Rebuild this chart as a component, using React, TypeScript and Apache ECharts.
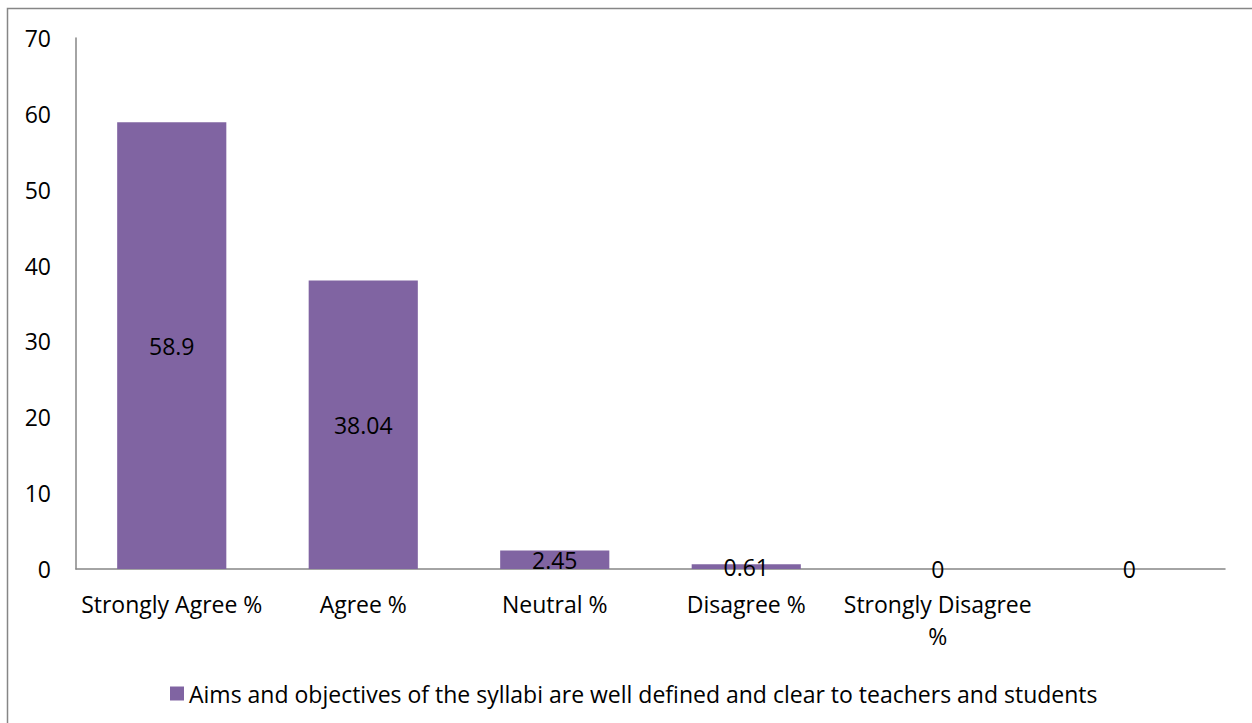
import React, { useEffect, useRef } from "react";
import * as echarts from "echarts";

const categories = [
  "Strongly Agree %",
  "Agree %",
  "Neutral %",
  "Disagree %",
  "Strongly Disagree\n%",
  "",
];
const values = [58.9, 38.04, 2.45, 0.61, 0, 0];
const seriesName =
  "Aims and objectives of the syllabi are well defined and clear to teachers and students";
const yMin = 0;
const yMax = 70;
const yInterval = 10;

const FONT = "'Open Sans', sans-serif";
const FS = 23;

export default function App() {
  const ref = useRef<HTMLDivElement>(null);
  useEffect(() => {
    if (!ref.current) return;
    const chart = echarts.init(ref.current, undefined, { renderer: "svg" });
    chart.setOption({
      animation: false,
      backgroundColor: "#ffffff",
      textStyle: { fontFamily: FONT },
      graphic: [
        {
          type: "rect",
          shape: { x: 7.5, y: 8.5, width: 1400, height: 900 },
          style: { fill: "none", stroke: "#868686", lineWidth: 1.5 },
          silent: true,
        },
      ],
      grid: { left: 76, right: 27, top: 38, bottom: 154, containLabel: false },
      legend: {
        show: true,
        top: 677,
        left: 165,
        itemWidth: 14,
        itemHeight: 14,
        itemGap: 6,
        icon: "rect",
        textStyle: { fontFamily: FONT, fontSize: FS, color: "#000" },
        data: [seriesName],
      },
      xAxis: {
        type: "category",
        data: categories,
        axisLine: { show: true, lineStyle: { color: "#868686", width: 1.5 } },
        axisTick: { show: false },
        axisLabel: {
          interval: 0,
          margin: 19,
          color: "#000",
          fontFamily: FONT,
          fontSize: FS,
          lineHeight: 32,
        },
        splitLine: { show: false },
      },
      yAxis: {
        type: "value",
        min: yMin,
        max: yMax,
        interval: yInterval,
        axisLine: { show: true, lineStyle: { color: "#868686", width: 1.5 } },
        axisTick: { show: false },
        axisLabel: { margin: 25, color: "#000", fontFamily: FONT, fontSize: FS },
        splitLine: { show: false },
      },
      series: [
        {
          name: seriesName,
          type: "bar",
          data: values,
          barWidth: "57%",
          itemStyle: { color: "#8064A2" },
          label: {
            show: true,
            position: "inside",
            color: "#000",
            fontFamily: FONT,
            fontSize: FS,
          },
        },
      ],
    });
    return () => chart.dispose();
  }, []);
  return (
    <div
      ref={ref}
      style={{ position: "fixed", left: 0, top: 0, width: 1252, height: 723 }}
    />
  );
}
